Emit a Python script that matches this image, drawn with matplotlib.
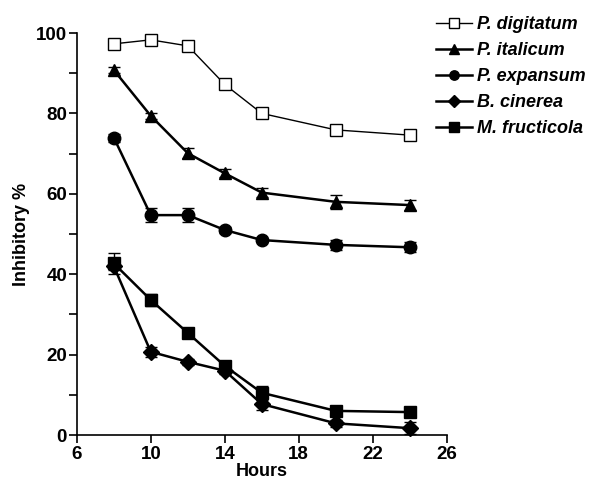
import numpy as np
import matplotlib
matplotlib.use("Agg")
import matplotlib.pyplot as plt

plt.rcParams['font.family'] = ['Liberation Sans', 'DejaVu Sans']
plt.rcParams['font.weight'] = 'bold'

# Donnees
hours = [8, 10, 12, 14, 16, 20, 24]
labels = ["P. digitatum", "P. italicum", "P. expansum", "B. cinerea", "M. fructicola"]

digitatum = [97.3, 98.3, 96.8, 87.2, 80.0, 75.9, 74.6]
digitatum_err = [0.5, 0.5, 0.5, 0.5, 0.5, 0.5, 0.5]
italicum = [90.8, 79.4, 70.1, 65.1, 60.3, 58.0, 57.2]
italicum_err = [0.8, 0.8, 1.2, 1.0, 1.2, 1.8, 1.3]
expansum = [74.0, 54.7, 54.7, 51.0, 48.5, 47.3, 46.7]
expansum_err = [1.0, 1.8, 1.8, 0.8, 0.5, 1.2, 1.2]
cinerea = [42.0, 20.7, 18.2, 16.0, 7.7, 2.9, 1.7]
cinerea_err = [1.0, 1.2, 0.8, 0.8, 1.5, 0.8, 1.5]
fructicola = [42.7, 33.6, 25.4, 17.2, 10.5, 6.0, 5.7]
fructicola_err = [2.6, 1.6, 0.5, 0.5, 1.8, 0.5, 0.5]

series = [digitatum, italicum, expansum, cinerea, fructicola]
errors = [digitatum_err, italicum_err, expansum_err, cinerea_err, fructicola_err]
markers = ['s', '^', 'o', 'D', 's']
faces = ['white', 'black', 'black', 'black', 'black']
sizes = [9, 9, 9, 8, 9]
widths = [1.0, 1.8, 1.8, 1.8, 1.8]

fig = plt.figure(figsize=(5.95, 4.82), dpi=100)
ax = fig.add_axes([0.129, 0.0975, 0.622, 0.834])

handles = []
for y, e, m, fc, ms, lw, lab in zip(series, errors, markers, faces, sizes, widths, labels):
    ax.errorbar(hours, y, yerr=e, fmt='none', ecolor='black', elinewidth=1.0,
                capsize=4, capthick=1.0, zorder=2)
    h, = ax.plot(hours, y, color='black', linewidth=lw, marker=m, markersize=ms,
                 markerfacecolor=fc, markeredgecolor='black', markeredgewidth=1.0,
                 label=lab, zorder=3, clip_on=False)
    handles.append(h)

ax.set_xlim(6, 26)
ax.set_ylim(0, 100)
ax.set_xticks([6, 10, 14, 18, 22, 26])
ax.set_yticks([0, 20, 40, 60, 80, 100])
ax.set_yticks([10, 30, 50, 70, 90], minor=True)
ax.tick_params(axis='both', which='major', direction='out', length=6, width=1.2,
               labelsize=13.5)
ax.tick_params(axis='y', which='major', pad=1)
ax.tick_params(axis='x', which='major', pad=2)
ax.tick_params(axis='y', which='minor', direction='out', length=6, width=1.2)
for lab in ax.get_xticklabels() + ax.get_yticklabels():
    lab.set_fontweight('bold')

for s in ['top', 'right']:
    ax.spines[s].set_visible(False)
for s in ['left', 'bottom']:
    ax.spines[s].set_linewidth(1.2)

ax.set_xlabel("Hours", fontsize=13, fontweight='bold', labelpad=0)
ax.set_ylabel("Inhibitory %", fontsize=13, fontweight='bold', labelpad=4)

leg = fig.legend(handles=handles, loc='upper left', bbox_to_anchor=(0.705, 1.0),
                 frameon=False, handlelength=2.0, handletextpad=0.3,
                 labelspacing=0.5, markerscale=0.75,
                 prop={'size': 13, 'weight': 'bold', 'style': 'italic'})

fig.savefig("out.png", dpi=100)
